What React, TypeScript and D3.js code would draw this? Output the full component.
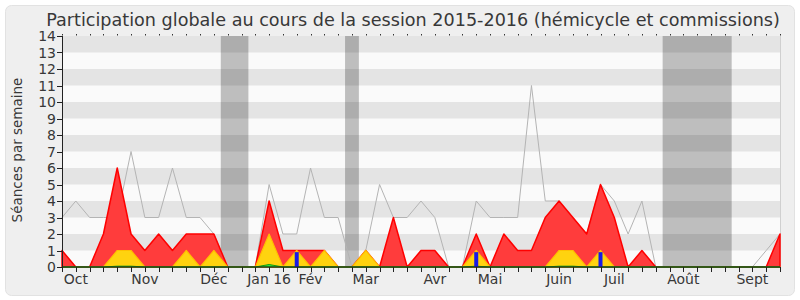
import React from "react";
import * as d3 from "d3";

const weeks: number[] = d3.range(53);
const redValues: number[] = [1,0,0,2,6,2,1,2,1,2,2,2,0,0,0,4,1,1,1,1,0,0,1,0,3,0,1,1,0,0,2,0,2,1,1,3,4,3,2,5,3,0,1,0,0,0,0,0,0,0,0,0,2];
const yellowValues: number[] = [0,0,0,0,1,1,0,0,0,1,0,1,0,0,0,2,0,1,0,1,0,0,1,0,0,0,0,0,0,0,1,0,0,0,0,0,1,1,0,1,0,0,0,0,0,0,0,0,0,0,0,0,0];
const greenValues: number[] = [0,0,0,0,0.05,0.05,0,0,0,0,0,0,0,0,0,0.15,0,0,0,0,0,0,0,0,0,0,0,0,0,0,0.05,0,0,0,0,0,0.05,0.05,0,0,0,0,0,0,0,0,0,0,0,0,0,0,0];
const greyValues: number[] = [3,4,3,3,3,7,3,3,6,3,3,2,0,0,0,5,2,2,6,3,3,0,1,5,3,3,4,3,0,0,4,3,3,3,11,4,4,3,2,5,4,2,4,0,0,0,0,0,0,0,0,1,2];
const blueWeeks: number[] = [17, 30, 39];
const blueValues: number[] = [0.9, 0.9, 0.9];
const vacations: [number, number][] = [[11.5, 13.5], [20.5, 21.5], [43.5, 48.5]];
const monthLabels: string[] = ["Oct", "Nov", "Déc", "Jan 16", "Fév", "Mar", "Avr", "Mai", "Juin", "Juil", "Août", "Sept"];
const monthWeeks: number[] = [1, 6, 11, 15, 18, 22, 27, 31, 36, 40, 45, 50];
const yTicks: number[] = d3.range(0, 15);
const title = "Participation globale au cours de la session 2015-2016 (hémicycle et commissions)";
const yLabel = "Séances par semaine";

const L = 62, R = 780, T = 36, B = 267;
const FONT = "'DejaVu Sans', Verdana, sans-serif";

export default function App() {
  const x = d3.scaleLinear().domain([0, 52]).range([L, R]);
  const y = d3.scaleLinear().domain([0, 14]).range([B, T]);
  const area = (vals: number[]) =>
    d3.area<number>().x((d) => x(d)).y0(y(0)).y1((d) => y(vals[d]))(weeks) || "";
  const line = (vals: number[]) =>
    d3.line<number>().x((d) => x(d)).y((d) => y(vals[d]))(weeks) || "";
  const stripes = d3.range(1, 14, 2);
  const textColor = "#383838";
  return (
    <div style={{ position: "absolute", left: 0, top: 0, width: 800, height: 300, background: "#fff" }}>
      <svg width={800} height={300} style={{ display: "block" }} fontFamily={FONT}>
        <rect x={5.5} y={5.5} width={789} height={290} rx={6} fill="#efefef" stroke="#e2e2e2" />
        <text x={413} y={26} textAnchor="middle" fontSize={17.6} fill={textColor}>{title}</text>
        <rect x={L} y={T} width={R - L} height={B - T} fill="#fafafa" />
        {vacations.map(([a, b], i) => (
          <rect key={"v" + i} x={x(a)} y={T} width={x(b) - x(a)} height={B - T} fill="#bebebe" />
        ))}
        {stripes.map((s) => (
          <rect key={"s" + s} x={L} y={y(s + 1)} width={R - L} height={y(s) - y(s + 1)} fill="#000" fillOpacity={0.085} />
        ))}
        <line x1={R + 0.5} x2={R + 0.5} y1={T} y2={B} stroke="#d0d0d0" />
        <path d={line(greyValues)} fill="none" stroke="#b4b4b4" strokeWidth={1} />
        <path d={area(redValues)} fill="#ff3c3c" stroke="#ff0000" strokeWidth={1.5} strokeLinejoin="round" />
        <path d={area(yellowValues)} fill="#ffd30f" stroke="#ffc000" strokeWidth={1.2} strokeLinejoin="round" />
        <path d={area(greenValues)} fill="#33ee33" stroke="#119911" strokeWidth={1} />
        {blueWeeks.map((w, i) => (
          <rect key={"b" + i} x={x(w) - 2} y={y(blueValues[i])} width={4} height={y(0) - y(blueValues[i])} fill="#1a1ae6" />
        ))}
        <line x1={L} x2={R} y1={B} y2={B} stroke="#1e1e1e" strokeWidth={1.2} />
        <line x1={L + 0.5} x2={L + 0.5} y1={T} y2={B + 1} stroke="#222" strokeWidth={1} />
        {weeks.map((w) => (
          <line key={"t" + w} x1={Math.round(x(w)) + 0.5} x2={Math.round(x(w)) + 0.5} y1={B} y2={B + 5} stroke="#222" />
        ))}
        {weeks.map((w) => (
          <rect key={"td" + w} x={Math.round(x(w))} y={T - 2} width={1} height={1.5} fill="#333" />
        ))}
        {yTicks.map((t) => (
          <g key={"y" + t}>
            <line x1={L - 5} x2={L} y1={Math.round(y(t)) + 0.5} y2={Math.round(y(t)) + 0.5} stroke="#222" />
            <text x={L - 6} y={y(t) + 5} textAnchor="end" fontSize={14} fill={textColor}>{t}</text>
          </g>
        ))}
        {monthLabels.map((m, i) => (
          <text key={"m" + i} x={x(monthWeeks[i])} y={284} textAnchor="middle" fontSize={14} fill={textColor}>{m}</text>
        ))}
        <text transform={`translate(22,150) rotate(-90)`} textAnchor="middle" fontSize={13.5} fill={textColor}>{yLabel}</text>
      </svg>
    </div>
  );
}
